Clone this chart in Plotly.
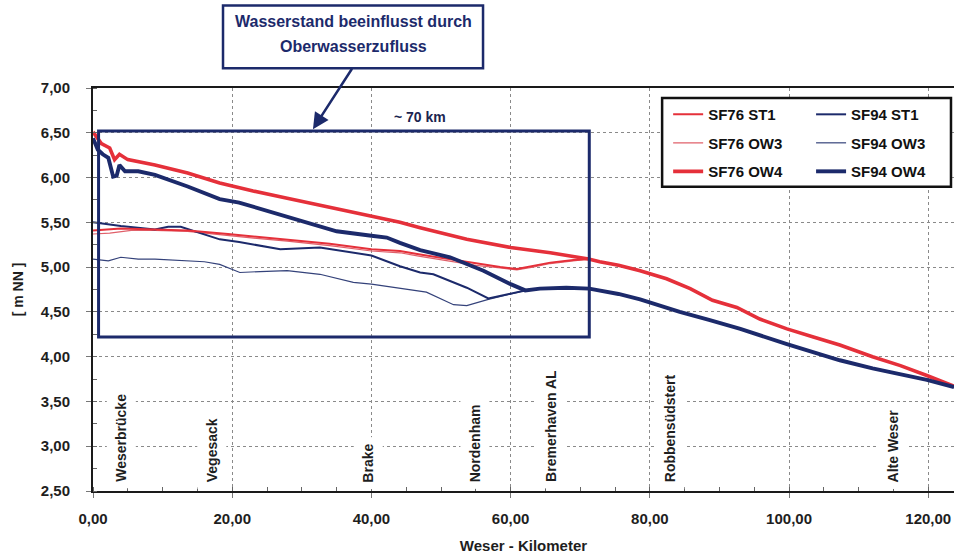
import plotly.graph_objects as go

# ---------------- data (Weser-km, water level m NN) ----------------
KM_TICKS = [0, 20, 40, 60, 80, 100, 120]
LEVEL_TICKS = [2.5, 3.0, 3.5, 4.0, 4.5, 5.0, 5.5, 6.0, 6.5, 7.0]

# SF76 - upstream parts
SF76_OW4_KM = [0, 0.6, 1.2, 2.4, 3.1, 3.8, 5.0, 8.9, 13.6, 18.2, 23, 27.9, 34, 40, 44.1, 47, 53.7, 60, 65.7]
SF76_OW4_VAL = [6.51, 6.45, 6.38, 6.33, 6.20, 6.26, 6.20, 6.14, 6.05, 5.94, 5.85, 5.77, 5.67, 5.57, 5.50, 5.44, 5.31, 5.22, 5.16]
SF76_ST1_KM = [0, 4, 8.9, 13.6, 19.4, 23.5, 27.9, 34, 40, 44.1, 47, 51.3, 55, 58.5, 60.9, 63.2, 65.7, 69]
SF76_ST1_VAL = [5.41, 5.43, 5.42, 5.41, 5.37, 5.34, 5.31, 5.26, 5.20, 5.18, 5.14, 5.09, 5.04, 5.00, 4.98, 5.01, 5.05, 5.08]
SF76_OW3_KM = [0, 2.4, 5.5, 8.9, 13.6, 19.4, 23.5, 27.9, 34, 40, 44.1, 47, 51.3, 55, 58.5, 60.9, 63.2, 65.7, 69]
SF76_OW3_VAL = [5.37, 5.38, 5.41, 5.41, 5.40, 5.35, 5.32, 5.29, 5.24, 5.18, 5.16, 5.12, 5.07, 5.02, 4.99, 4.97, 5.00, 5.04, 5.07]
# SF76 - common downstream part
SF76_TAIL_KM = [71.2, 72.8, 75.5, 78.6, 82.4, 85.8, 89, 92.5, 95.8, 99.7, 103.5, 107.3, 112, 116, 119.8, 123.7]
SF76_TAIL_VAL = [5.09, 5.06, 5.02, 4.96, 4.87, 4.76, 4.63, 4.55, 4.42, 4.31, 4.22, 4.13, 4.00, 3.90, 3.79, 3.67]

# SF94 - upstream parts
SF94_OW4_KM = [0, 0.7, 1.4, 2.2, 2.9, 3.4, 3.8, 4.6, 6.5, 8.9, 13.6, 18.2, 21, 24.5, 27.9, 31.5, 35, 40, 42.2, 44.1, 47, 51.3, 56.1, 60]
SF94_OW4_VAL = [6.44, 6.31, 6.26, 6.22, 6.01, 6.02, 6.14, 6.07, 6.07, 6.03, 5.90, 5.76, 5.72, 5.64, 5.57, 5.48, 5.40, 5.35, 5.33, 5.27, 5.19, 5.11, 4.96, 4.81]
SF94_ST1_KM = [0, 4, 8.9, 10.8, 12.6, 15, 18.2, 21, 26.9, 32.6, 40, 44.1, 47, 48.9, 53.7, 56.8, 60]
SF94_ST1_VAL = [5.50, 5.46, 5.42, 5.45, 5.45, 5.39, 5.31, 5.28, 5.20, 5.22, 5.13, 5.01, 4.94, 4.92, 4.77, 4.65, 4.70]
SF94_OW3_KM = [0, 2.2, 4, 6.5, 8.9, 11.3, 13.6, 16, 18.2, 21.1, 24, 27.9, 32.6, 37.4, 40, 44.1, 47.9, 51.8, 53.7, 56.8, 60]
SF94_OW3_VAL = [5.09, 5.07, 5.11, 5.09, 5.09, 5.08, 5.07, 5.06, 5.03, 4.94, 4.95, 4.96, 4.92, 4.83, 4.81, 4.76, 4.72, 4.58, 4.57, 4.64, 4.70]
# SF94 - common downstream part
SF94_TAIL_KM = [62.1, 64.2, 68, 71.3, 72.8, 75.5, 78.6, 84.3, 88.5, 93, 99.7, 103.5, 107.3, 112, 116, 119.8, 123.7]
SF94_TAIL_VAL = [4.74, 4.76, 4.77, 4.76, 4.74, 4.70, 4.64, 4.50, 4.41, 4.31, 4.14, 4.05, 3.96, 3.87, 3.80, 3.74, 3.66]

LOCATIONS = ["Weserbrücke", "Vegesack", "Brake", "Nordenham", "Bremerhaven AL", "Robbensüdstert", "Alte Weser"]
LOCATION_KM = [4.1, 17.1, 39.5, 54.9, 65.9, 82.9, 114.9]

# ---------------- styling ----------------
RED = "#e5303a"
RED_THIN = "#e0606a"
NAVY = "#1c2a6b"
NAVY_THIN = "#34427a"
FONT = "Liberation Sans, Arial, sans-serif"
TXT = "#1e1e1e"
LABEL_Y = 2.52

fig = go.Figure()

series = [
    # name, km, val, tail_km, tail_val, color, width, legend, rank
    ("SF94 OW3", SF94_OW3_KM, SF94_OW3_VAL, SF94_TAIL_KM, SF94_TAIL_VAL, NAVY_THIN, 1.2, "legend2", 2),
    ("SF76 OW3", SF76_OW3_KM, SF76_OW3_VAL, SF76_TAIL_KM, SF76_TAIL_VAL, RED_THIN, 1.2, "legend", 2),
    ("SF94 ST1", SF94_ST1_KM, SF94_ST1_VAL, SF94_TAIL_KM, SF94_TAIL_VAL, NAVY, 2.0, "legend2", 1),
    ("SF76 ST1", SF76_ST1_KM, SF76_ST1_VAL, SF76_TAIL_KM, SF76_TAIL_VAL, RED, 2.0, "legend", 1),
    ("SF76 OW4", SF76_OW4_KM, SF76_OW4_VAL, SF76_TAIL_KM, SF76_TAIL_VAL, RED, 3.6, "legend", 3),
    ("SF94 OW4", SF94_OW4_KM, SF94_OW4_VAL, SF94_TAIL_KM, SF94_TAIL_VAL, NAVY, 3.9, "legend2", 3),
]
for name, km, val, tkm, tval, color, w, leg, rank in series:
    fig.add_trace(go.Scatter(
        x=list(km) + list(tkm), y=list(val) + list(tval),
        mode="lines", name=name, line=dict(color=color, width=w),
        legend=leg, legendgroup=name, legendrank=rank,
    ))

legend_font = dict(family=FONT, size=15, color="#111111", weight="bold")
fig.update_layout(
    width=954, height=554,
    margin=dict(l=93, r=0, t=88, b=61),
    paper_bgcolor="white", plot_bgcolor="white",
    separators=",.",
    showlegend=True,
    legend=dict(x=0.668, y=0.975, xanchor="left", yanchor="top", bgcolor="rgba(0,0,0,0)",
                font=legend_font, tracegroupgap=6, itemwidth=30),
    legend2=dict(x=0.834, y=0.975, xanchor="left", yanchor="top", bgcolor="rgba(0,0,0,0)",
                 font=legend_font, tracegroupgap=6, itemwidth=30),
)

grid = dict(showgrid=True, gridcolor="#8a8a8a", gridwidth=1, griddash="dot")
fig.update_xaxes(
    range=[0, 123.7], tickvals=KM_TICKS, tickformat=".2f",
    ticks="outside", ticklen=5, tickcolor="#777", zeroline=False,
    showline=True, linecolor="#1a1a1a", linewidth=2, mirror=True,
    tickfont=dict(family=FONT, size=15, color=TXT, weight="bold"),
    ticklabelstandoff=8,
    title=dict(text="Weser - Kilometer", font=dict(family=FONT, size=15, color=TXT, weight="bold"), standoff=16),
    minor=dict(dtick=5, ticks="inside", ticklen=4, tickcolor="#666", showgrid=False),
    **grid,
)
fig.update_yaxes(
    range=[2.5, 7.0], tickvals=LEVEL_TICKS, tickformat=".2f",
    ticks="outside", ticklen=5, tickcolor="#777", zeroline=False,
    showline=True, linecolor="#1a1a1a", linewidth=2, mirror=False,
    tickfont=dict(family=FONT, size=15, color=TXT, weight="bold"),
    ticklabelstandoff=13,
    title=dict(text="[ m NN ]", font=dict(family=FONT, size=14, color=TXT, weight="bold"), standoff=14),
    minor=dict(dtick=0.25, ticks="inside", ticklen=4, tickcolor="#666", showgrid=False),
    **grid,
)

# legend frame
fig.add_shape(type="rect", xref="paper", yref="paper", x0=0.661, x1=0.9965, y0=0.755, y1=0.975,
              line=dict(color="#111111", width=2.5), fillcolor="white", layer="above")
# ~70 km frame
fig.add_shape(type="rect", xref="x", yref="y", x0=0.8, x1=71.3, y0=4.22, y1=6.52,
              line=dict(color=NAVY, width=3), layer="above")
# callout frame
fig.add_shape(type="rect", xref="paper", yref="paper", x0=0.151, x1=0.453, y0=1.049, y1=1.205,
              line=dict(color=NAVY, width=2.5), fillcolor="white", layer="above")

ann_font = dict(family=FONT, size=16, color=NAVY, weight="bold")
fig.add_annotation(xref="paper", yref="paper", x=0.302, y=1.164, text="Wasserstand beeinflusst durch",
                   xanchor="center", yanchor="middle", showarrow=False, font=ann_font)
fig.add_annotation(xref="paper", yref="paper", x=0.302, y=1.102, text="Oberwasserzufluss",
                   xanchor="center", yanchor="middle", showarrow=False, font=ann_font)
fig.add_annotation(xref="x", yref="y", x=31.6, y=6.54, ax=40, ay=-62, text="",
                   showarrow=True, arrowhead=2, arrowsize=1.3, arrowwidth=2.5, arrowcolor=NAVY, standoff=0)
fig.add_annotation(xref="x", yref="y", x=47, y=6.68, text="~ 70 km", showarrow=False,
                   font=dict(family=FONT, size=14, color="#1b2550", weight="bold"))

for name, km in zip(LOCATIONS, LOCATION_KM):
    fig.add_annotation(xref="x", yref="y", x=km, y=LABEL_Y, text=name, textangle=-90,
                       xanchor="center", yanchor="bottom", showarrow=False,
                       bgcolor="white", borderpad=6,
                       font=dict(family=FONT, size=14, color=TXT, weight="bold"))

fig.write_html("out.html", config={"displayModeBar": False},
               post_script="document.body.style.margin='0';document.body.style.overflow='hidden';")
